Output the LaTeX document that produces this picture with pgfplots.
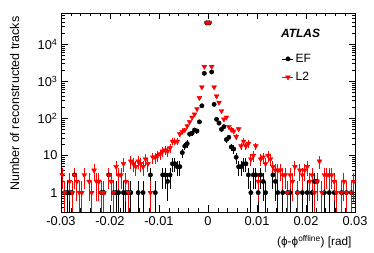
\documentclass[border=0pt]{standalone}
\usepackage{fontspec}
\setmainfont{Liberation Sans}
\usepackage{pgfplots}
\pgfplotsset{compat=1.18}
\usepackage{pgfplotstable}

\pgfplotstableread{
x y
-0.02925 1
-0.02875 1
-0.02825 1
-0.02775 1
-0.02725 3
-0.02175 1
-0.02125 1
-0.02025 3
-0.01925 1
-0.01875 1
-0.01825 1
-0.01725 1
-0.01675 1
-0.01625 1
-0.01575 1
-0.01425 1
-0.01325 1
-0.01175 3
-0.01075 1
-0.00925 3
-0.00875 3
-0.00825 2
-0.00775 3
-0.00725 6
-0.00675 6
-0.00625 5
-0.00575 5
-0.00525 12
-0.00475 18
-0.00425 21
-0.00375 38
-0.00325 40
-0.00275 49
-0.00225 46
-0.00175 81
-0.00125 220
-0.00075 1650
-0.00025 38000
0.00025 38000
0.00075 1800
0.00125 240
0.00175 95
0.00225 75
0.00275 51
0.00325 60
0.00375 27
0.00425 31
0.00475 17
0.00525 15
0.00575 9
0.00625 5
0.00675 5
0.00725 6
0.00775 6
0.00825 3
0.00875 1
0.00925 3
0.00975 3
0.01025 1
0.01075 3
0.01125 2
0.01175 1
0.01325 3
0.01375 2
0.01425 1
0.01525 1
0.01625 1
0.01675 1
0.01825 1
0.01925 1
0.02025 1
0.02125 1
0.02175 2
0.02225 2
0.02375 1
0.02475 1
0.02575 1
0.02725 1
0.02825 1
0.02925 1
}\dataEF

\pgfplotstableread{
x y
-0.02975 3
-0.02925 1
-0.02825 2
-0.02775 1
-0.02725 3
-0.02675 2
-0.02625 1
-0.02575 1
-0.02525 3
-0.02425 2
-0.02375 1
-0.02325 4
-0.02275 2
-0.02225 2
-0.02175 1
-0.02125 1
-0.02025 3
-0.01975 2
-0.01925 1
-0.01875 5
-0.01825 3
-0.01775 3
-0.01725 6
-0.01675 2
-0.01625 1
-0.01575 7
-0.01525 6
-0.01475 5
-0.01425 7
-0.01375 6
-0.01325 5
-0.01275 8
-0.01225 6
-0.01175 1
-0.01125 9
-0.01075 9
-0.01025 10
-0.00975 11
-0.00925 13
-0.00875 14
-0.00825 13
-0.00775 16
-0.00725 24
-0.00675 24
-0.00625 24
-0.00575 38
-0.00525 44
-0.00475 49
-0.00425 63
-0.00375 81
-0.00325 107
-0.00275 130
-0.00225 180
-0.00175 360
-0.00125 700
-0.00075 2500
-0.00025 39000
0.00025 39000
0.00075 2500
0.00125 700
0.00175 400
0.00225 270
0.00275 160
0.00325 95
0.00375 107
0.00425 60
0.00475 50
0.00525 45
0.00575 32
0.00625 52
0.00675 18
0.00725 24
0.00775 18
0.00825 21
0.00875 8
0.00925 10
0.00975 18
0.01025 2
0.01075 8
0.01125 9
0.01175 6
0.01225 10
0.01275 8
0.01325 5
0.01375 4
0.01425 4
0.01475 4
0.01525 3
0.01575 3
0.01625 1
0.01675 3
0.01725 2
0.01775 5
0.01825 1
0.01875 4
0.01925 3
0.01975 4
0.02025 5
0.02075 2
0.02125 3
0.02175 1
0.02225 2
0.02275 7
0.02325 1
0.02375 3
0.02425 3
0.02475 3
0.02525 3
0.02575 2
0.02625 1
0.02725 1
0.02775 2
0.02825 1
0.02925 1
0.02975 2
}\dataLtwo

\begin{document}
\begin{tikzpicture}[font=\fontsize{12}{14.4}\selectfont]
\begin{axis}[
  scale only axis, width=294pt, height=199pt,
  xmin=-0.03, xmax=0.03, ymode=log, ymin=0.3, ymax=7e4,
  scaled x ticks=false,
  xtick={-0.03,-0.02,-0.01,0,0.01,0.02,0.03},
  xticklabels={-0.03,-0.02,-0.01,0,0.01,0.02,0.03},
  minor x tick num=4,
  ytick={1,10,100,1000,10000},
  yticklabels={1,10,10\textsuperscript{2},10\textsuperscript{3},10\textsuperscript{4}},
  minor ytick={0.4,0.5,0.6,0.7,0.8,0.9,2,3,4,5,6,7,8,9,20,30,40,50,60,70,80,90,200,300,400,500,600,700,800,900,2000,3000,4000,5000,6000,7000,8000,9000,20000,30000,40000,50000,60000,70000},
  ticklabel style={font=\fontsize{12.8}{15}\selectfont},
  xticklabel style={yshift=-1pt},
  tick align=inside, major tick length=6.5pt, minor tick length=3.5pt,
  tick style={black, line width=0.6pt},
  axis line style={line width=0.8pt},
  xtick pos=both, ytick pos=both,
  xticklabel pos=bottom, yticklabel pos=left,
  ylabel={Number of reconstructed tracks},
  ylabel style={at={(axis description cs:-0.13,1)}, anchor=south east, font=\fontsize{12.5}{15}\selectfont},
  xlabel={(ϕ-ϕ\textsuperscript{offline}) [rad]},
  xlabel style={at={(axis description cs:1,-0.10)}, anchor=north east, font=\fontsize{11.8}{14}\selectfont},
  legend style={at={(rel axis cs:0.752,0.805)}, anchor=north west, draw=none, fill=none, inner sep=0pt, row sep=4.5pt},
  legend cell align=left,
  legend image code/.code={\draw[#1,mark=none] (0pt,0pt) -- (11pt,0pt); \draw[#1] plot coordinates {(5.5pt,0pt)};},
]
\addplot[black, only marks, mark=*, mark size=2.2pt,
  error bars/.cd, y dir=both, y explicit, x dir=both, x fixed=0.00025, error mark=none,
  error bar style={line width=1pt, black}]
  table[x=x, y=y, y error plus expr={sqrt(\thisrow{y})}, y error minus expr={min(\thisrow{y}-0.2,sqrt(\thisrow{y}))}] {\dataEF};
\addlegendentry{EF}
\addplot[red, only marks, mark=triangle*, mark size=2.8pt, mark options={rotate=180},
  error bars/.cd, y dir=both, y explicit, x dir=both, x fixed=0.00025, error mark=none,
  error bar style={line width=1pt, red}]
  table[x=x, y=y, y error plus expr={sqrt(\thisrow{y})}, y error minus expr={min(\thisrow{y}-0.2,sqrt(\thisrow{y}))}] {\dataLtwo};
\addlegendentry{L2}
\node[font=\fontsize{12}{14.4}\selectfont\bfseries\itshape] at (rel axis cs:0.815,0.90) {ATLAS};
\end{axis}
\pgfresetboundingbox
\path[use as bounding box] (-61pt,-41pt) rectangle (313pt,212pt);
\end{tikzpicture}
\end{document}
